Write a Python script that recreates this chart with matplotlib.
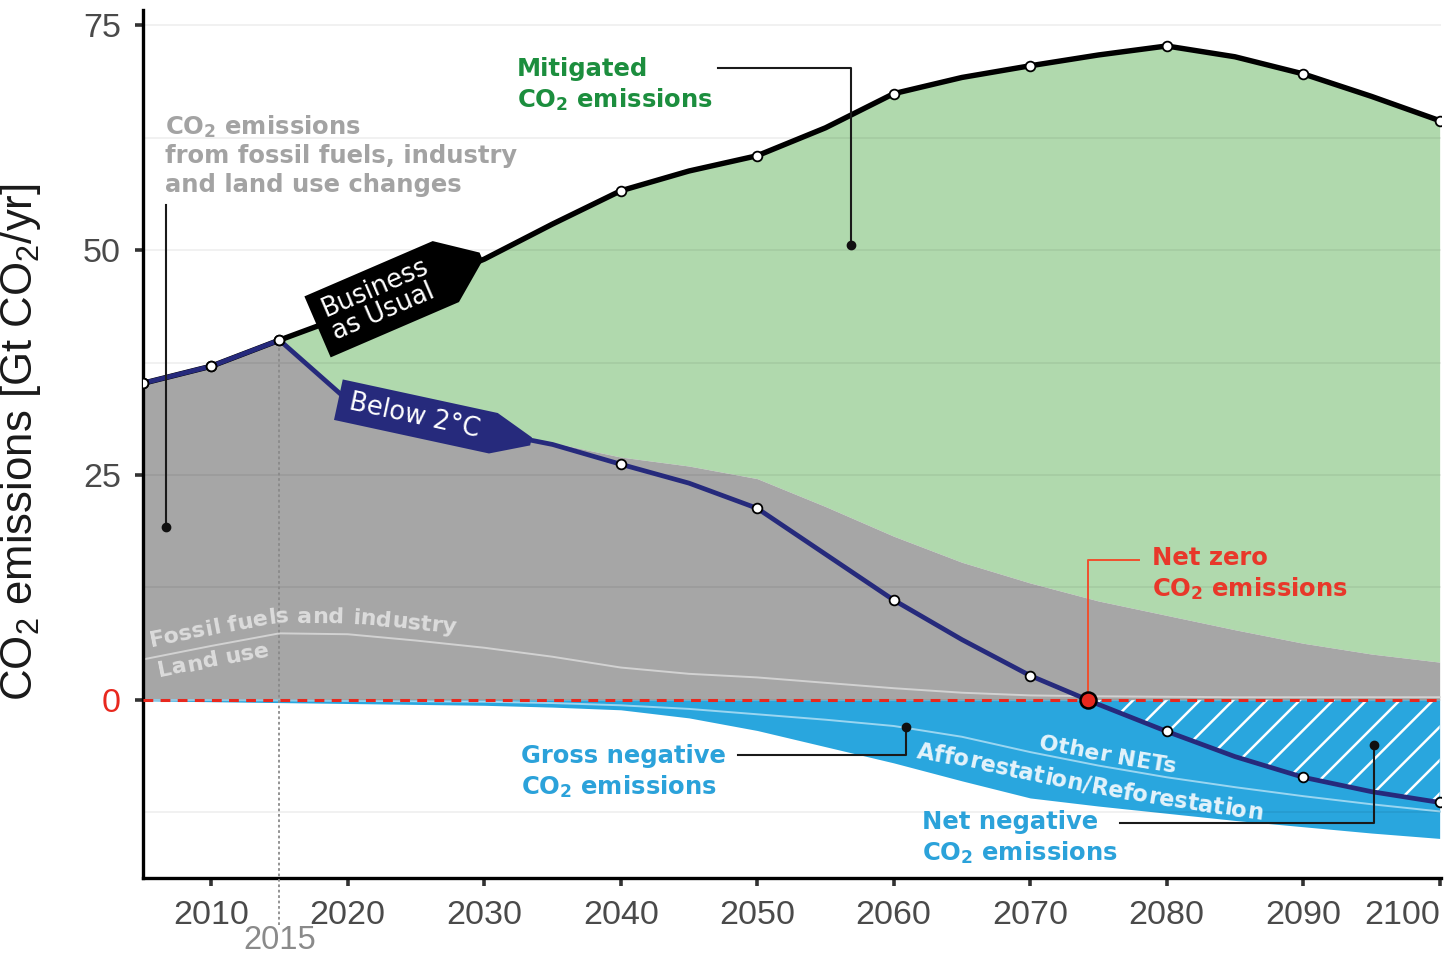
import numpy as np
import matplotlib
matplotlib.use("Agg")
import matplotlib.pyplot as plt
from matplotlib.path import Path
from matplotlib.font_manager import FontProperties
from matplotlib.ticker import MultipleLocator

# ---------------- data ----------------
years = [2005, 2010, 2015, 2020, 2025, 2030, 2035, 2040, 2045, 2050,
         2055, 2060, 2065, 2070, 2075, 2080, 2085, 2090, 2095, 2100]
bau = [35.2, 37.1, 40.0, 42.8, 45.9, 49.0, 52.9, 56.6, 58.8, 60.5,
       63.6, 67.4, 69.2, 70.5, 71.7, 72.7, 71.5, 69.6, 67.1, 64.4]
below_2c = [35.2, 37.1, 40.0, 33.3, 31.2, 29.9, 28.4, 26.2, 24.1, 21.3,
            16.2, 11.1, 6.7, 2.7, -0.5, -3.5, -6.3, -8.6, -10.2, -11.4]
gross_positive = [35.2, 37.1, 40.0, 33.3, 31.2, 29.9, 28.6, 27.0, 26.0, 24.6,
                  21.5, 18.2, 15.3, 13.0, 11.0, 9.4, 7.8, 6.3, 5.1, 4.2]
land_use = [4.5, 6.0, 7.4, 7.3, 6.6, 5.8, 4.8, 3.6, 2.9, 2.5,
            1.9, 1.3, 0.8, 0.5, 0.4, 0.35, 0.3, 0.3, 0.3, 0.3]
afforestation_top = [0.0, -0.02, -0.05, -0.1, -0.15, -0.2, -0.35, -0.6, -1.0, -1.6,
                     -2.2, -2.9, -4.1, -5.8, -7.3, -8.6, -9.7, -10.7, -11.6, -12.4]
gross_negative = [-0.1, -0.2, -0.3, -0.4, -0.5, -0.6, -0.8, -1.1, -2.0, -3.4,
                  -5.2, -7.0, -9.0, -10.9, -11.8, -12.6, -13.4, -14.1, -14.8, -15.4]
marker_years = [2005, 2010, 2015, 2040, 2050, 2060, 2070, 2080, 2090, 2100]
x_ticks = [2010, 2020, 2030, 2040, 2050, 2060, 2070, 2080, 2090, 2100]
y_ticks = [0, 25, 50, 75]
y_tick_labels = ["0", "25", "50", "75"]

# ---------------- style ----------------
GREEN = "#b0d9ad"
GREY = "#a6a6a6"
BLUE = "#29a6de"
NAVY = "#262a7c"
RED = "#e8281e"
TXT_GREEN = "#1c8e3e"
TXT_GREY = "#a3a3a3"
TXT_BLUE = "#2ba2da"
TXT_RED = "#e8382a"

plt.rcParams["mathtext.fontset"] = "custom"
plt.rcParams["mathtext.rm"] = "Liberation Sans"
plt.rcParams["mathtext.bf"] = "DejaVu Sans:bold"
plt.rcParams["mathtext.default"] = "rm"
plt.rcParams["hatch.linewidth"] = 1.8

yrs = np.array(years, dtype=float)
bau_a = np.array(bau)
b2c = np.array(below_2c)
gpos = np.array(gross_positive)
gneg = np.array(gross_negative)
luse = np.array(land_use)
aff = np.array(afforestation_top)

fig = plt.figure(figsize=(14.47, 9.58), dpi=100)
ax = fig.add_axes([143 / 1447, 1 - 878 / 958, (1441 - 143) / 1447, (878 - 10) / 958])
ax.set_xlim(2005, 2100.1)
ax.set_ylim(-19.8, 76.7)

# ---------------- areas ----------------
ax.fill_between(yrs, gpos, bau_a, color=GREEN, lw=0, zorder=1)
ax.fill_between(yrs, 0, gpos, color=GREY, lw=0, zorder=1)
ax.fill_between(yrs, gneg, 0, color=BLUE, lw=0, zorder=1)
ax.plot(yrs, luse, color="#d2d2d2", lw=1.4, zorder=1.2)
ax.plot(yrs, aff, color="#9ad6f1", lw=1.4, zorder=1.2)
ax.fill_between(yrs, b2c, 0, where=b2c <= 0, interpolate=True,
                facecolor="none", edgecolor="white", hatch="/", lw=0, zorder=1.3)

# ---------------- axes styling ----------------
ax.set_axisbelow("line")
ax.yaxis.set_minor_locator(MultipleLocator(12.5))
ax.yaxis.grid(True, which="both", color="black", alpha=0.06, lw=1.3)
ax.set_xticks(x_ticks)
ax.set_yticks(y_ticks)
ax.set_yticklabels(y_tick_labels)
for s in ["top", "right"]:
    ax.spines[s].set_visible(False)
for s in ["left", "bottom"]:
    ax.spines[s].set_linewidth(2.4)
    ax.spines[s].set_color("black")
ax.tick_params(which="major", length=6, width=2.6, color="#333333",
               labelsize=24.5, labelcolor="#4a4a4a")
ax.tick_params(axis="x", pad=10)
ax.tick_params(axis="y", pad=10)
ax.tick_params(which="minor", length=0)
for lab in ax.get_xticklabels() + ax.get_yticklabels():
    lab.set_fontfamily("Liberation Sans")
ax.get_yticklabels()[0].set_color(RED)
ax.get_xticklabels()[-1].set_horizontalalignment("right")

fig.text(21 / 1447, 1 - 442 / 958, r"CO$_2$ emissions [Gt CO$_2$/yr]", rotation=90,
         ha="center", va="center", fontsize=31.5, family="Liberation Sans", color="#1a1a1a")

# zero line and 2015 marker line
ax.axhline(0, color=RED, lw=2.2, ls=(0, (3.2, 2.4)), zorder=3)
ax.plot([2015, 2015], [-25.0, np.interp(2015, yrs, b2c)], color="#8a8a8a", lw=1.3,
        ls=(0, (1.5, 1.5)), clip_on=False, zorder=2.6)
ax.text(2015, -26.8, "2015", ha="center", va="center", fontsize=23.5,
        family="Liberation Sans", color="#8a8a8a", clip_on=False)

# ---------------- lines ----------------
ax.plot(yrs, bau_a, color="black", lw=3.9, zorder=4, solid_capstyle="round")
ax.plot(yrs, b2c, color=NAVY, lw=3.4, zorder=5, solid_capstyle="round")
m_b = [bau[years.index(y)] for y in marker_years]
m_2 = [below_2c[years.index(y)] for y in marker_years]
mk = dict(ls="none", marker="o", mfc="white", mec="black", ms=7, mew=1.3, zorder=6)
ax.plot(marker_years, m_b, **mk)
ax.plot(marker_years, m_2, **mk)

tail = yrs >= 2040
nz = float(np.interp(0, b2c[tail][::-1], yrs[tail][::-1]))
ax.plot([nz], [0], ls="none", marker="o", mfc=RED, mec="black", ms=11.5, mew=1.8, zorder=9)


# ---------------- tag labels on the lines ----------------
def tag_path(x0, y0, width, height, mutation_size):
    ms = mutation_size
    padl, padr, pady = 0.45 * ms, 0.55 * ms, 0.3 * ms
    tip, neck = 1.5 * ms, 0.16 * ms
    xl, xr = x0 - padl, x0 + width + padr
    yb, yt = y0 - pady, y0 + height + pady
    yc = 0.5 * (yb + yt)
    return Path([(xl, yb), (xr, yb), (xr + tip, yc - neck), (xr + tip, yc + neck),
                 (xr, yt), (xl, yt), (xl, yb)], closed=True)


def line_angle(xa, xb, series):
    p = ax.transData.transform([(xa, np.interp(xa, yrs, series)),
                                (xb, np.interp(xb, yrs, series))])
    return np.degrees(np.arctan2(p[1, 1] - p[0, 1], p[1, 0] - p[0, 0]))


ax.text(2022.4, np.interp(2022.4, yrs, bau_a) + 0.2, "Business\nas Usual",
        rotation=line_angle(2016, 2036, bau_a), rotation_mode="anchor",
        ha="center", va="center", multialignment="left", linespacing=0.95,
        color="white", fontsize=18.5, family="DejaVu Sans",
        bbox=dict(boxstyle=tag_path, fc="black", ec="none"), zorder=8)
ax.text(2024.9, np.interp(2024.9, yrs, b2c) + 0.3, "Below 2°C",
        rotation=line_angle(2020, 2034, b2c), rotation_mode="anchor",
        ha="center", va="center", color="white", fontsize=18.5, family="DejaVu Sans",
        bbox=dict(boxstyle=tag_path, fc=NAVY, ec="none"), zorder=8)

# ---------------- curved in-area labels ----------------
renderer = fig.canvas.get_renderer()


def curved_text(series, text, x_start, dy_px, size, color):
    fp = FontProperties(family="DejaVu Sans", weight="bold", size=size)
    gx = np.linspace(yrs[0], yrs[-1], 3000)
    gy = np.interp(gx, yrs, series)
    pts = ax.transData.transform(np.column_stack([gx, gy]))
    pts[:, 1] += dy_px
    s = np.concatenate([[0], np.cumsum(np.hypot(np.diff(pts[:, 0]), np.diff(pts[:, 1])))])
    s0 = np.interp(ax.transData.transform((x_start, 0))[0], pts[:, 0], s)
    inv = ax.transData.inverted()
    for i, ch in enumerate(text):
        if ch == " ":
            continue
        wp = renderer.get_text_width_height_descent(text[:i + 1], fp, ismath=False)[0]
        wc = renderer.get_text_width_height_descent(ch, fp, ismath=False)[0]
        sc = s0 + wp - wc / 2
        px, py = np.interp(sc, s, pts[:, 0]), np.interp(sc, s, pts[:, 1])
        ax_, ay_ = np.interp(sc - 18, s, pts[:, 0]), np.interp(sc - 18, s, pts[:, 1])
        bx_, by_ = np.interp(sc + 18, s, pts[:, 0]), np.interp(sc + 18, s, pts[:, 1])
        ang = np.degrees(np.arctan2(by_ - ay_, bx_ - ax_))
        dx, dy = inv.transform((px, py))
        ax.text(dx, dy, ch, fontproperties=fp, color=color, rotation=ang,
                rotation_mode="anchor", ha="center", va="baseline", zorder=3.5)


curved_text(luse, "Fossil fuels and industry", 2005.6, 11, 16, "#dcdcdc")
curved_text(luse, "Land use", 2006.2, -21, 16, "#dcdcdc")
curved_text(aff, "Other NETs", 2070.6, 5, 16, "#e4f3fb")
curved_text(aff, "Afforestation/Reforestation", 2061.6, -29, 16.3, "#e4f3fb")

# ---------------- annotations ----------------
bold = dict(fontsize=17.5, family="DejaVu Sans", weight="bold", ha="left",
            va="center", linespacing=1.25, zorder=10)
lead = dict(color="#1a1a1a", lw=1.5, zorder=7)
dot = dict(ls="none", marker="o", color="#111111", ms=6, zorder=7)

ax.text(2032.4, 68.4, "Mitigated\nCO$_\\mathbf{2}$ emissions", color=TXT_GREEN, **bold)
ax.plot([2047.1, 2056.9, 2056.9], [70.3, 70.3, 50.6], **lead)
ax.plot([2056.9], [50.6], **dot)

ax.text(2006.6, 60.6, "CO$_\\mathbf{2}$ emissions\nfrom fossil fuels, industry\nand land use changes",
        color=TXT_GREY, **bold)
ax.plot([2006.7, 2006.7], [55.0, 19.2], **lead)
ax.plot([2006.7], [19.2], **dot)

ax.text(2078.9, 14.0, "Net zero\nCO$_\\mathbf{2}$ emissions", color=TXT_RED, **bold)
ax.plot([2078.0, nz, nz], [15.6, 15.6, 0], color="#f0502e", lw=1.4, zorder=7)

ax.text(2032.7, -8.0, "Gross negative\nCO$_\\mathbf{2}$ emissions", color=TXT_BLUE, **bold)
ax.plot([2048.6, 2060.9, 2060.9], [-6.1, -6.1, -3.0], **lead)
ax.plot([2060.9], [-3.0], **dot)

ax.text(2062.1, -15.4, "Net negative\nCO$_\\mathbf{2}$ emissions", color=TXT_BLUE, **bold)
ax.plot([2076.6, 2095.2, 2095.2], [-13.7, -13.7, -5.0], **lead)
ax.plot([2095.2], [-5.0], **dot)

fig.savefig("out.png", dpi=100)
